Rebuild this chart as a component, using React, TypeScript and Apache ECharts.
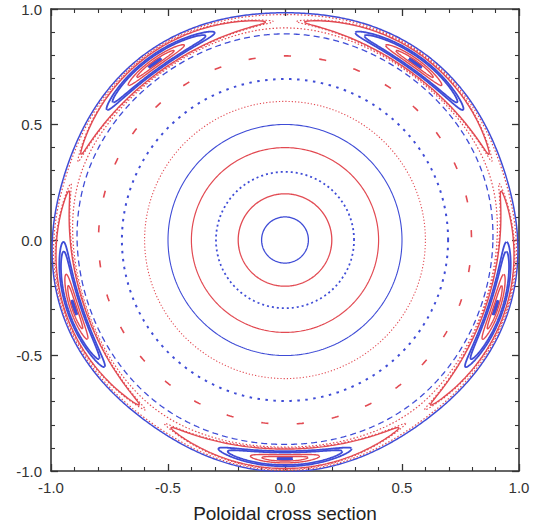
import React, { useEffect, useRef } from "react";
import * as echarts from "echarts";

const RED = "#e24a52";
const BLUE = "#3f4cd6";

// axis
const axisMin = -1;
const axisMax = 1;
const axisInterval = 0.5;
const xAxisTitle = "Poloidal cross section";

// concentric circles (radius, colour, dash, width)
const circleRadii = [0.1, 0.2, 0.295, 0.4, 0.5, 0.6, 0.697];
const circleColors = [BLUE, RED, BLUE, RED, BLUE, RED, BLUE];
const circleDashes: (number[] | string)[] = ["solid", "solid", [2, 3], "solid", "solid", [1.2, 2], [2.5, 5.5]];
const circleWidths = [1.3, 1.3, 1.8, 1.2, 1.1, 1.1, 2];

// chain of short red dashes
const chainRadius = 0.797;
const chainCount = 33;
const chainPhaseDeg = -85.3;
const chainDashDeg = 2.2;

// island chain (m = 5)
const islandCount = 5;
const islandPhaseDeg = -90;
const islandRadius = 0.947;

// contours trapped inside each island
const trappedHalfAngleDeg = [2, 6, 9, 15, 17.5, 31, 33];
const trappedHalfWidth = [0.003, 0.01, 0.018, 0.027, 0.033, 0.042, 0.046];
const trappedColors = [BLUE, RED, RED, BLUE, BLUE, RED, RED];
const trappedDashes: (number[] | string)[] = ["solid", "solid", "solid", "solid", "solid", "solid", [1.5, 2]];
const trappedWidths = [2.6, 1.4, 1.4, 1.8, 1.8, 1.4, 1.2];

// contours passing round the island chain (deviation at the O-point, shape constant)
const passingDeviation = [0.056, 0.05, -0.05, -0.062];
const passingShape = [-2.5, -2, -2, -8];
const passingColors = [BLUE, RED, RED, BLUE];
const passingDashes: (number[] | string)[] = ["solid", [1.5, 2], [1.5, 2], [6, 4]];
const passingWidths = [1.5, 1.2, 1.2, 1.3];

const D2R = Math.PI / 180;

function pt(r: number, th: number): [number, number] {
  return [r * Math.cos(th), r * Math.sin(th)];
}

function circlePoints(r: number) {
  const out: [number, number][] = [];
  for (let i = 0; i <= 360; i++) out.push(pt(r, i * D2R));
  return out;
}

function chainPoints() {
  const out: any[] = [];
  for (let i = 0; i < chainCount; i++) {
    const c = chainPhaseDeg + (i * 360) / chainCount;
    for (let j = 0; j <= 4; j++) {
      const a = c - chainDashDeg / 2 + (chainDashDeg * j) / 4;
      out.push(pt(chainRadius, a * D2R));
    }
    out.push(null);
  }
  return out;
}

function trappedPoints(Adeg: number, B: number) {
  const m = islandCount;
  const c = Math.cos(m * Adeg * D2R);
  const out: any[] = [];
  for (let k = 0; k < m; k++) {
    const th0 = (islandPhaseDeg + (k * 360) / m) * D2R;
    const N = 240;
    for (let i = 0; i <= N; i++) {
      const u = (i / N) * 2 * Math.PI;
      const s = Math.sin(u);
      let arg = c + (1 - c) * s * s;
      arg = Math.max(-1, Math.min(1, arg));
      const sg = Math.cos(u) >= 0 ? 1 : -1;
      const phi = (sg * Math.acos(arg)) / m;
      out.push(pt(islandRadius + B * s, th0 + phi));
    }
    out.push(null);
  }
  return out;
}

function passingPoints(B: number, c: number) {
  const m = islandCount;
  const th0 = islandPhaseDeg * D2R;
  const out: [number, number][] = [];
  const N = 900;
  for (let i = 0; i <= N; i++) {
    const th = (i / N) * 2 * Math.PI;
    const v = Math.sqrt(Math.max(0, (Math.cos(m * (th - th0)) - c) / (1 - c)));
    out.push(pt(islandRadius + B * v, th));
  }
  return out;
}

function lineSeries(data: any[], color: string, type: any, width: number) {
  return {
    type: "line",
    data,
    showSymbol: false,
    symbol: "none",
    connectNulls: false,
    clip: true,
    silent: true,
    lineStyle: { color, type, width, cap: "butt" },
  };
}

const font = "Liberation Sans, Arial, sans-serif";
const axisColor = "#333";

function makeAxis(pos: "bottom" | "top" | "left" | "right", withLabels: boolean, isX: boolean) {
  const ax: any = {
    type: "value",
    position: pos,
    min: axisMin,
    max: axisMax,
    interval: axisInterval,
    axisLine: { show: true, onZero: false, lineStyle: { color: axisColor, width: 1.6 } },
    axisTick: { show: true, inside: true, length: 7, lineStyle: { color: axisColor, width: 1.3 } },
    minorTick: { show: true, splitNumber: 5, length: 4, lineStyle: { color: axisColor, width: 1.1 } },
    axisLabel: {
      show: withLabels,
      formatter: (v: number) => v.toFixed(1),
      fontSize: 15,
      color: "#333",
      margin: 9,
      fontFamily: font,
    },
    splitLine: { show: false },
    minorSplitLine: { show: false },
  };
  if (isX && withLabels) {
    ax.name = xAxisTitle;
    ax.nameLocation = "middle";
    ax.nameGap = 33;
    ax.nameTextStyle = { fontSize: 19, color: "#222", fontFamily: font };
  }
  return ax;
}

export default function App() {
  const ref = useRef<HTMLDivElement>(null);
  useEffect(() => {
    if (!ref.current) return;
    const chart = echarts.init(ref.current, undefined, { renderer: "svg" });
    const series: any[] = [];
    circleRadii.forEach((r, i) =>
      series.push(lineSeries(circlePoints(r), circleColors[i], circleDashes[i], circleWidths[i]))
    );
    series.push(lineSeries(chainPoints(), RED, "solid", 1.6));
    passingDeviation.forEach((B, i) =>
      series.push(lineSeries(passingPoints(B, passingShape[i]), passingColors[i], passingDashes[i], passingWidths[i]))
    );
    trappedHalfAngleDeg.forEach((A, i) =>
      series.push(lineSeries(trappedPoints(A, trappedHalfWidth[i]), trappedColors[i], trappedDashes[i], trappedWidths[i]))
    );
    chart.setOption({
      animation: false,
      backgroundColor: "#fff",
      grid: { left: 51, right: 21, top: 9, bottom: 60, containLabel: false },
      xAxis: [makeAxis("bottom", true, true), makeAxis("top", false, true)],
      yAxis: [makeAxis("left", true, false), makeAxis("right", false, false)],
      series,
    });
    return () => chart.dispose();
  }, []);
  return (
    <div
      ref={ref}
      style={{ position: "absolute", left: 0, top: 0, width: 540, height: 531 }}
    />
  );
}
